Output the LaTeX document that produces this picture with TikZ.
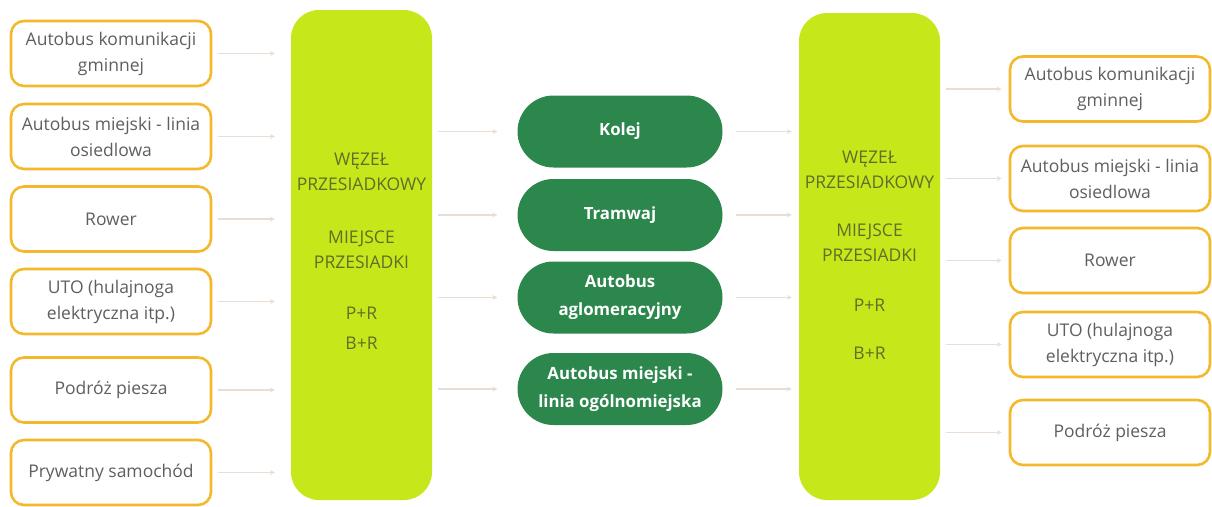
\documentclass[tikz,border=0pt]{standalone}
\usepackage{fontspec}
\setmainfont{Open Sans}
\usetikzlibrary{calc,arrows.meta}
\definecolor{orng}{RGB}{243,184,44}
\definecolor{lime}{RGB}{198,232,26}
\definecolor{dgreen}{RGB}{43,135,76}
\definecolor{txtgray}{RGB}{95,95,95}
\definecolor{hubtxt}{RGB}{95,110,40}
\definecolor{arrc}{RGB}{234,222,212}
\tikzset{
  mode/.style={draw=orng, line width=2.6pt, rounded corners=13pt, fill=white,
    minimum width=200pt, minimum height=65pt, align=center, text=txtgray,
    font=\fontsize{17.5}{26}\selectfont, inner sep=0pt},
  hub/.style={fill=lime, rounded corners=28pt, minimum width=141pt, inner sep=0pt},
  hubt/.style={text=hubtxt, font=\fontsize{17.5}{25}\selectfont, align=center, inner sep=0pt},
  core/.style={fill=dgreen, rounded corners=36pt, minimum width=205pt, minimum height=72pt,
    text=white, font=\bfseries\fontsize{16.8}{28}\selectfont, align=center, inner sep=0pt},
  arr/.style={draw=arrc, line width=1.3pt, -{Stealth[length=5pt,width=5pt]}}
}
\begin{document}
\begin{tikzpicture}[x=1pt,y=-1pt]
\useasboundingbox (0,0) rectangle (1212,506);
% left modes
\node[mode] (l1) at (111,53.5) {Autobus komunikacji\\gminnej};
\node[mode] (l2) at (111,136.5) {Autobus miejski - linia\\osiedlowa};
\node[mode] (l3) at (111,219) {Rower};
\node[mode] (l4) at (111,301.5) {UTO (hulajnoga\\elektryczna itp.)};
\node[mode] (l5) at (111,390) {Podróż piesza};
\node[mode] (l6) at (111,472.5) {Prywatny samochód};
% hubs
\node[hub, minimum height=490pt] (hL) at (361.5,255) {};
\node[hub, minimum height=487pt] (hR) at (869.5,256.5) {};
\node[hubt] (tL1) at (361.5,171.5) {WĘZEŁ\\PRZESIADKOWY};
\node[hubt] (tL2) at (361.5,249.5) {MIEJSCE\\PRZESIADKI};
\node[hubt] (tL3) at (361.5,313) {P+R};
\node[hubt] (tL4) at (361.5,343) {B+R};
\node[hubt] (tR1) at (869.5,170) {WĘZEŁ\\PRZESIADKOWY};
\node[hubt] (tR2) at (869.5,242.5) {MIEJSCE\\PRZESIADKI};
\node[hubt] (tR3) at (869.5,305) {P+R};
\node[hubt] (tR4) at (869.5,353) {B+R};
% core
\node[core] (c1) at (620,131.5) {Kolej};
\node[core] (c2) at (620,215) {Tramwaj};
\node[core] (c3) at (620,297.5) {Autobus\\aglomeracyjny};
\node[core] (c4) at (620,389) {Autobus miejski -\\linia ogólnomiejska};
% right modes
\node[mode] (r1) at (1110,89) {Autobus komunikacji\\gminnej};
\node[mode] (r2) at (1110,178.5) {Autobus miejski - linia\\osiedlowa};
\node[mode] (r3) at (1110,260.5) {Rower};
\node[mode] (r4) at (1110,344.5) {UTO (hulajnoga\\elektryczna itp.)};
\node[mode] (r5) at (1110,432.5) {Podróż piesza};
% arrows
\foreach \n in {l1,l2,l3,l4,l5,l6}
  \draw[arr] ($(\n.east)+(6,0)$) -- ($(\n.east -| hL.west)+(-16,0)$);
\foreach \n in {c1,c2,c3,c4}{
  \draw[arr] ($(\n.west -| hL.east)+(6,0)$) -- ($(\n.west)+(-20,0)$);
  \draw[arr] ($(\n.east)+(13,0)$) -- ($(\n.east -| hR.west)+(-7,0)$);
}
\foreach \n in {r1,r2,r3,r4,r5}
  \draw[arr] ($(\n.west -| hR.east)+(6,0)$) -- ($(\n.west)+(-7,0)$);
\end{tikzpicture}
\end{document}
